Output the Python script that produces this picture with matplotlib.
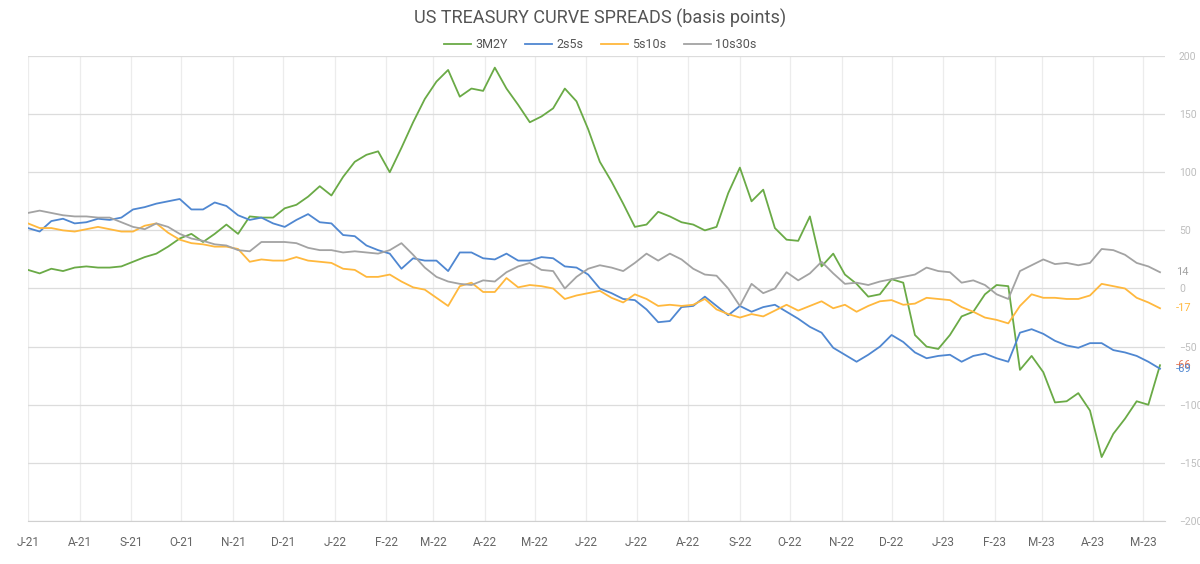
import matplotlib
matplotlib.use("Agg")
import matplotlib.pyplot as plt
import matplotlib.dates as mdates
import matplotlib.ticker as mticker
import pandas as pd

# weekly readings, Jul-2021 .. May-2023 (basis points)
spread_3m2y = [
    16, 13, 17, 15, 18, 19, 18, 18, 19, 23, 27, 30, 36, 43, 47, 40, 47,
    55, 47, 62, 61, 61, 69, 72, 79, 88, 80, 96, 109, 115, 118, 100, 121,
    143, 163, 178, 188, 165, 172, 170, 190, 172, 158, 143, 148, 155, 172, 161, 137,
    109, 92, 73, 53, 55, 66, 62, 57, 55, 50, 53, 82, 104, 75, 85, 52, 42,
    41, 62, 19, 30, 12, 4, -7, -5, 8, 5, -40, -50, -52, -40, -24, -20,
    -5, 3, 2, -70, -58, -72, -98, -97, -90, -105, -145, -125, -112, -97, -100, -66,
]
spread_2s5s = [
    52, 49, 58, 60, 56, 57, 60, 59, 61, 68, 70, 73, 75, 77, 68, 68, 74,
    71, 63, 59, 61, 56, 53, 59, 64, 57, 56, 46, 45, 37, 33, 30, 17,
    26, 24, 24, 15, 31, 31, 26, 25, 30, 24, 24, 27, 26, 19, 18, 12,
    0, -4, -9, -10, -18, -29, -28, -16, -15, -7, -15, -23, -15, -20, -16, -14, -20,
    -26, -33, -38, -51, -57, -63, -57, -50, -40, -46, -55, -60, -58, -57, -63, -58,
    -56, -60, -63, -38, -35, -39, -45, -49, -51, -47, -47, -53, -55, -58, -63, -69,
]
spread_5s10s = [
    56, 52, 52, 50, 49, 51, 53, 51, 49, 49, 54, 56, 48, 42, 39, 38, 36,
    36, 34, 23, 25, 24, 24, 27, 24, 23, 22, 17, 16, 10, 10, 12, 6,
    1, -1, -8, -15, 2, 5, -3, -3, 9, 1, 3, 2, 0, -9, -6, -4,
    -2, -8, -12, -5, -9, -15, -14, -15, -14, -9, -18, -22, -25, -22, -24, -19, -14,
    -19, -15, -11, -17, -14, -20, -15, -11, -10, -14, -13, -8, -9, -10, -16, -20,
    -25, -27, -30, -15, -5, -8, -8, -9, -9, -6, 4, 2, 0, -8, -12, -17,
]
spread_10s30s = [
    65, 67, 65, 63, 62, 62, 61, 61, 57, 53, 51, 56, 53, 47, 43, 41, 38,
    37, 33, 32, 40, 40, 40, 39, 35, 33, 33, 31, 32, 31, 30, 33, 39,
    29, 18, 10, 6, 4, 3, 7, 6, 14, 19, 22, 16, 15, 0, 10, 17,
    20, 18, 15, 22, 30, 24, 30, 25, 17, 12, 11, 0, -15, 4, -4, 0, 14,
    7, 13, 23, 13, 4, 5, 3, 6, 8, 10, 12, 18, 15, 14, 5, 7,
    3, -5, -9, 15, 20, 25, 21, 22, 20, 22, 34, 33, 29, 22, 19, 14,
]

names = ["3M2Y", "2s5s", "5s10s", "10s30s"]
colors = ["#6aaa46", "#4f87d1", "#ffb83d", "#a3a3a3"]
label_colors = ["#e2704e", "#4f87d1", "#ffb83d", "#a3a3a3"]
series = [spread_3m2y, spread_2s5s, spread_5s10s, spread_10s30s]
for s in series:
    assert len(s) == 98

dates = pd.date_range("2021-07-01", periods=len(spread_3m2y), freq="7D")

plt.rcParams["font.family"] = ["Roboto", "DejaVu Sans"]

fig = plt.figure(figsize=(12, 5.64), dpi=100)
ax = fig.add_axes([28 / 1200, 1 - 521 / 564, (1165 - 28) / 1200, (521 - 56) / 564])

for s, name, c in zip(series, names, colors):
    ax.plot(dates, s, color=c, lw=1.3, label=name)

ax.set_xlim(pd.Timestamp("2021-07-01"), pd.Timestamp("2023-05-14"))
ax.set_ylim(-200, 200)

ax.xaxis.set_major_locator(mdates.MonthLocator())
ax.xaxis.set_major_formatter(mticker.FuncFormatter(
    lambda v, pos: mdates.num2date(v).strftime("%b")[0] + "-" + mdates.num2date(v).strftime("%y")))
ax.yaxis.set_major_locator(mticker.MultipleLocator(50))
ax.yaxis.tick_right()

ax.grid(axis="y", color="#dcdcdc", lw=0.9)
ax.grid(axis="x", color="#ececec", lw=0.9)
ax.set_axisbelow(True)
for sp in ["top", "left", "right"]:
    ax.spines[sp].set_visible(False)
ax.spines["bottom"].set_color("#d0d0d0")
ax.tick_params(axis="x", length=0, pad=11, labelsize=8.5, labelcolor="#666666")
ax.tick_params(axis="y", length=0, pad=10, labelsize=7.5, labelcolor="#bdbdbd")

# last-value labels at the right edge
for s, c in zip(series, label_colors):
    ax.annotate(f"{s[-1]}", xy=(1.0, s[-1]), xycoords=ax.get_yaxis_transform(),
                xytext=(8, 0), textcoords="offset points", va="center", ha="left",
                fontsize=8, color=c)

fig.text(0.5, 1 - 18 / 564, "US TREASURY CURVE SPREADS (basis points)",
         ha="center", va="center", fontsize=13, color="#555555")
fig.legend(loc="center", bbox_to_anchor=(0.5, 1 - 45 / 564), ncol=4, frameon=False,
           fontsize=9, handlelength=2.2, handletextpad=0.3, columnspacing=1.4,
           labelcolor="#555555")

fig.savefig("out.png", dpi=100)
